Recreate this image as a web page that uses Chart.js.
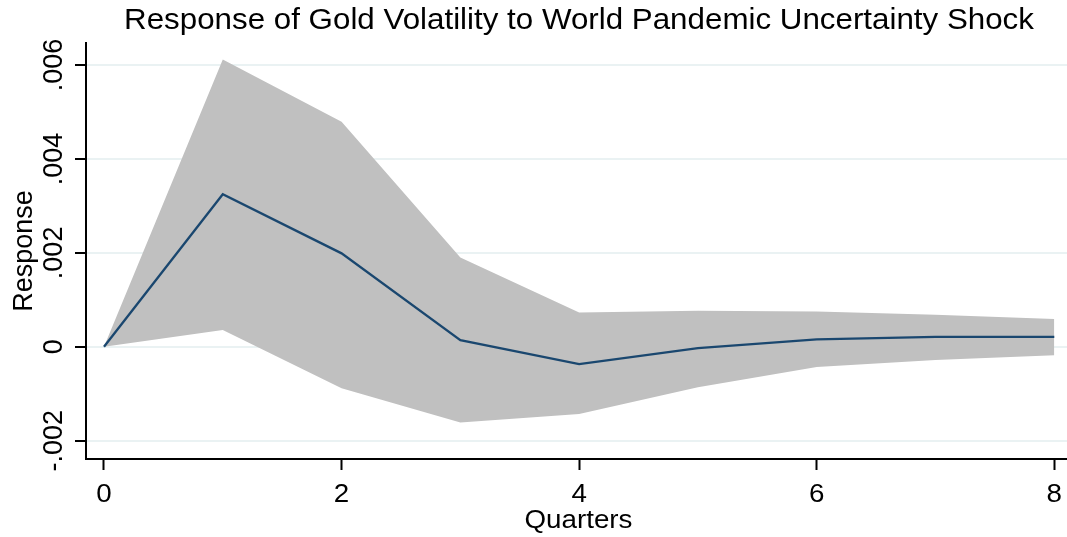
<!DOCTYPE html>
<html>
<head>
<meta charset="utf-8">
<script src="https://cdn.jsdelivr.net/npm/chart.js@4.4.1/dist/chart.umd.min.js"></script>
<style>
  html, body { margin: 0; padding: 0; background: #ffffff; }
  #wrap { width: 1067px; height: 537px; }
</style>
</head>
<body>
<div id="wrap"><canvas id="c" width="1067" height="537"></canvas></div>
<script>
const quarters = [0, 1, 2, 3, 4, 5, 6, 7, 8];
const irf      = [0, 0.00325, 0.00199, 0.00014, -0.00037, -0.00003, 0.00016, 0.00021, 0.00021];
const upperCI  = [0, 0.00612, 0.00479, 0.00190, 0.00073, 0.00077, 0.00075, 0.00068, 0.00059];
const lowerCI  = [0, 0.00036, -0.00088, -0.00161, -0.00143, -0.00086, -0.00043, -0.00028, -0.00018];
const xTicks = [0, 2, 4, 6, 8];
const xTickLabels = ['0', '2', '4', '6', '8'];
const yTicks = [-0.002, 0, 0.002, 0.004, 0.006];
const yTickLabels = ['-.002', '0', '.002', '.004', '.006'];
const titleText = 'Response of Gold Volatility to World Pandemic Uncertainty Shock';
const xTitleText = 'Quarters';
const yTitleText = 'Response';

const toXY = arr => quarters.map((q, i) => ({ x: q, y: arr[i] }));
const FONT = "'Liberation Sans', Arial, sans-serif";

function drawText(ctx, text, x, y, size, sx, rot) {
  ctx.save();
  ctx.translate(x, y);
  if (rot) ctx.rotate(rot);
  ctx.scale(sx, 1);
  ctx.font = size + 'px ' + FONT;
  ctx.fillStyle = '#000';
  ctx.textAlign = 'center';
  ctx.textBaseline = 'alphabetic';
  ctx.fillText(text, 0, 0);
  ctx.restore();
}

const textPlugin = {
  id: 'stataText',
  afterDraw(chart) {
    const ctx = chart.ctx;
    const xs = chart.scales.x, ys = chart.scales.y;
    const ca = chart.chartArea;
    // title
    drawText(ctx, titleText, 579, 28.5, 29, 1.08, 0);
    // x tick labels
    xTicks.forEach((v, i) => drawText(ctx, xTickLabels[i], xs.getPixelForValue(v), 502, 25, 1.11, 0));
    // x title
    drawText(ctx, xTitleText, (ca.left + ca.right) / 2 + 2, 528, 25, 1.11, 0);
    // y tick labels (rotated)
    yTicks.forEach((v, i) => drawText(ctx, yTickLabels[i], 62, ys.getPixelForValue(v), 27, 1, -Math.PI / 2));
    // y title
    drawText(ctx, yTitleText, 32, (ca.top + ca.bottom) / 2, 27, 1, -Math.PI / 2);
  }
};

new Chart(document.getElementById('c'), {
  type: 'line',
  data: {
    datasets: [
      { label: 'irf', data: toXY(irf), borderColor: '#1a476f', borderWidth: 2.3,
        pointRadius: 0, fill: false, tension: 0, order: 0 },
      { label: 'upper', data: toXY(upperCI), borderWidth: 0, borderColor: 'rgba(0,0,0,0)',
        backgroundColor: '#c0c0c0', pointRadius: 0, fill: '+1', tension: 0, order: 1 },
      { label: 'lower', data: toXY(lowerCI), borderWidth: 0, borderColor: 'rgba(0,0,0,0)',
        backgroundColor: '#c0c0c0', pointRadius: 0, fill: false, tension: 0, order: 2 }
    ]
  },
  options: {
    responsive: false,
    animation: false,
    events: [],
    layout: { padding: { left: 0, right: 0, top: 43, bottom: 0 } },
    plugins: {
      legend: { display: false },
      tooltip: { enabled: false },
      title: { display: false }
    },
    scales: {
      x: {
        type: 'linear',
        min: -0.1515,
        max: 8.107,
        afterBuildTicks: s => { s.ticks = xTicks.map(v => ({ value: v })); },
        afterFit: s => { s.height = 78; },
        border: { color: '#000', width: 2 },
        grid: { drawOnChartArea: false, drawTicks: true, tickLength: 11, tickColor: '#000', tickWidth: 2 },
        ticks: { display: false },
        title: { display: false }
      },
      y: {
        type: 'linear',
        min: -0.002389,
        max: 0.006469,
        afterBuildTicks: s => { s.ticks = yTicks.map(v => ({ value: v })); },
        afterFit: s => { s.width = 86; },
        border: { color: '#000', width: 2 },
        grid: { drawOnChartArea: true, color: '#eaf2f3', lineWidth: 2, drawTicks: true, tickLength: 11,
                tickColor: '#000', tickWidth: 2 },
        ticks: { display: false },
        title: { display: false }
      }
    }
  },
  plugins: [textPlugin]
});
</script>
</body>
</html>
